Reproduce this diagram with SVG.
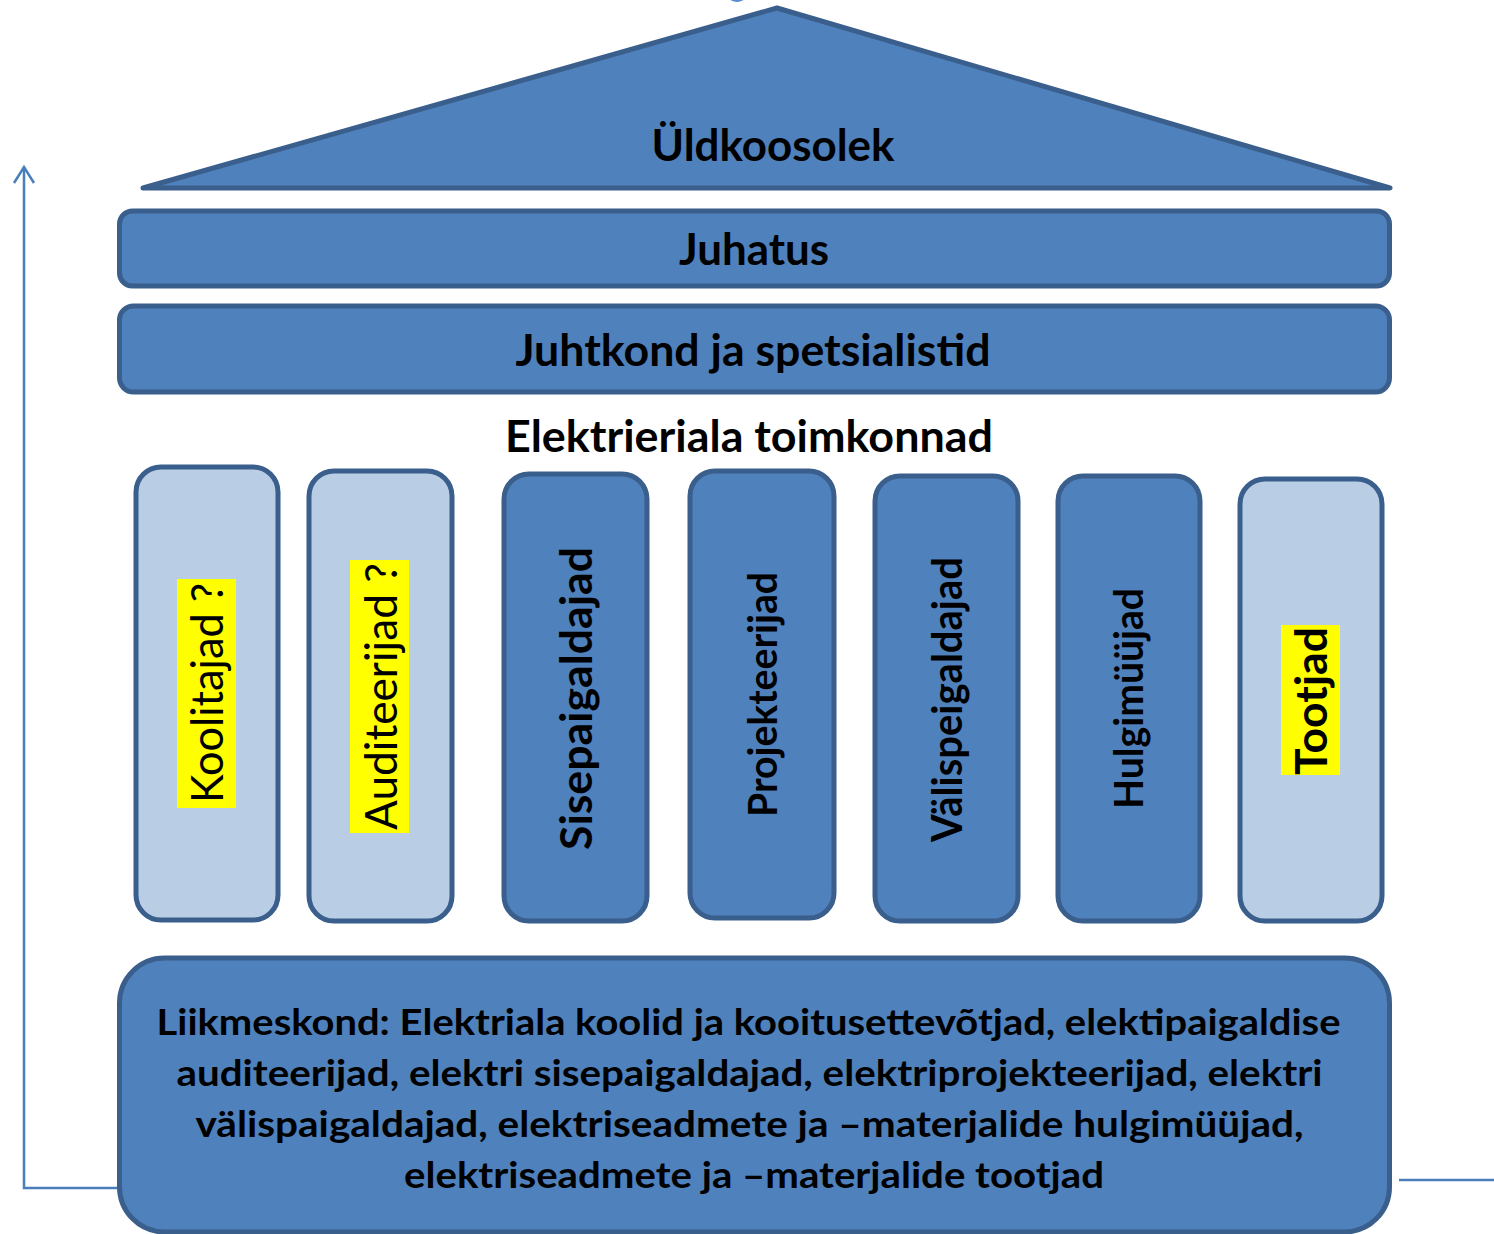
<svg xmlns="http://www.w3.org/2000/svg" width="1494" height="1234" viewBox="0 0 1494 1234">
<style>
.dark{fill:#4F81BD;stroke:#3A5F8C;stroke-width:5}
.light{fill:#B9CDE5;stroke:#3A5F8C;stroke-width:5}
.t{font-family:Lato,"Liberation Sans",sans-serif;fill:#000}
.b{font-weight:bold}
.hl{fill:#FFFF00}
.conn{fill:none;stroke:#4A7EBB;stroke-width:2.5}
</style>
<rect width="1494" height="1234" fill="#fff"/>
<ellipse cx="737" cy="-3" rx="8" ry="5" fill="#5B8AD0"/>
<g id="connectors">
<polyline class="conn" points="119,1188 24,1188 24,167"/>
<polyline class="conn" points="14,183 24,167 34,183"/>
<line class="conn" x1="1399" y1="1180" x2="1494" y2="1180"/>
</g>
<g id="yldkoosolek">
<polygon class="dark" stroke-linejoin="round" points="777,8 1390,188 143,188"/>
<text class="t b" x="773" y="161" font-size="43" text-anchor="middle" textLength="243" lengthAdjust="spacingAndGlyphs">Üldkoosolek</text>
</g>
<g id="juhatus">
<rect class="dark" x="119.5" y="211" width="1270" height="75" rx="13"/>
<text class="t b" x="754" y="265" font-size="43" text-anchor="middle" textLength="150" lengthAdjust="spacingAndGlyphs">Juhatus</text>
</g>
<g id="juhtkond">
<rect class="dark" x="119.5" y="306" width="1270" height="86" rx="14"/>
<text class="t b" x="753" y="366" font-size="43" text-anchor="middle" textLength="475" lengthAdjust="spacingAndGlyphs">Juhtkond ja spetsialistid</text>
</g>
<g id="toimkonnad-label">
<text class="t b" x="749" y="452" font-size="43" text-anchor="middle" textLength="488" lengthAdjust="spacingAndGlyphs">Elektrieriala toimkonnad</text>
</g>
<g id="koolitajad">
<rect class="light" x="136" y="467" width="142" height="453" rx="25"/>
<rect class="hl" x="177" y="579" width="59" height="229"/>
<text class="t" transform="translate(223,693) rotate(-90)" font-size="44" text-anchor="middle" textLength="220" lengthAdjust="spacingAndGlyphs">Koolitajad ?</text>
</g>
<g id="auditeerijad">
<rect class="light" x="309" y="471" width="143" height="450" rx="25"/>
<rect class="hl" x="350" y="560" width="59" height="273"/>
<text class="t" transform="translate(397,696.5) rotate(-90)" font-size="44" text-anchor="middle" textLength="267" lengthAdjust="spacingAndGlyphs">Auditeerijad ?</text>
</g>
<g id="sisepaigaldajad">
<rect class="dark" x="504" y="474" width="143" height="447" rx="25"/>
<text class="t b" transform="translate(592,698.5) rotate(-90)" font-size="43" text-anchor="middle" textLength="303" lengthAdjust="spacingAndGlyphs">Sisepaigaldajad</text>
</g>
<g id="projekteerijad">
<rect class="dark" x="690" y="471" width="144" height="447" rx="25"/>
<text class="t b" transform="translate(777,694.5) rotate(-90)" font-size="41" text-anchor="middle" textLength="245" lengthAdjust="spacingAndGlyphs">Projekteerijad</text>
</g>
<g id="valispeigaldajad">
<rect class="dark" x="875" y="476" width="143" height="445" rx="25"/>
<text class="t b" transform="translate(962,699.5) rotate(-90)" font-size="42" text-anchor="middle" textLength="285" lengthAdjust="spacingAndGlyphs">Välispeigaldajad</text>
</g>
<g id="hulgimyyjad">
<rect class="dark" x="1058" y="476" width="142" height="445" rx="25"/>
<text class="t b" transform="translate(1143,698.5) rotate(-90)" font-size="40" text-anchor="middle" textLength="221" lengthAdjust="spacingAndGlyphs">Hulgimüüjad</text>
</g>
<g id="tootjad">
<rect class="light" x="1240" y="479" width="142" height="442" rx="25"/>
<rect class="hl" x="1281" y="625" width="59" height="150"/>
<text class="t b" transform="translate(1327,701) rotate(-90)" font-size="44" text-anchor="middle" textLength="148" lengthAdjust="spacingAndGlyphs">Tootjad</text>
</g>
<g id="liikmeskond">
<rect class="dark" x="119.5" y="958" width="1270" height="274" rx="45"/>
<text class="t b" font-size="37" text-anchor="middle">
<tspan x="753" y="1035" textLength="1184" lengthAdjust="spacingAndGlyphs">Liikmeskond: Elektriala koolid ja kooitusettevõtjad, elektipaigaldise</tspan>
<tspan x="754" y="1086" textLength="1146" lengthAdjust="spacingAndGlyphs">auditeerijad, elektri sisepaigaldajad, elektriprojekteerijad, elektri</tspan>
<tspan x="754" y="1137" textLength="1108" lengthAdjust="spacingAndGlyphs">välispaigaldajad, elektriseadmete ja –materjalide hulgimüüjad,</tspan>
<tspan x="754" y="1188" textLength="700" lengthAdjust="spacingAndGlyphs">elektriseadmete ja –materjalide tootjad</tspan>
</text>
</g>
</svg>
